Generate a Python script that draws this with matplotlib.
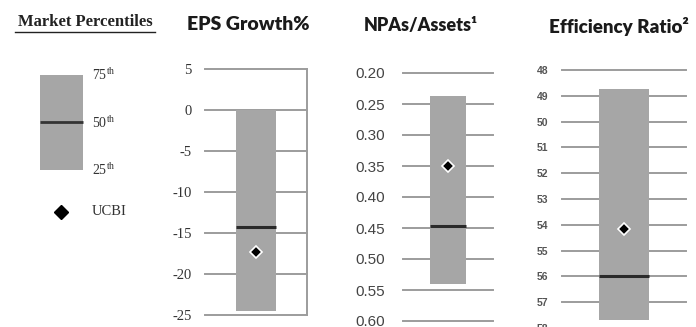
import matplotlib
matplotlib.use("Agg")
import matplotlib.pyplot as plt
from matplotlib.lines import Line2D

# percentile bands per metric (25th / 50th / 75th) and the UCBI reading
metrics = ["EPS Growth%", "NPAs/Assets\u00b9", "Efficiency Ratio\u00b2"]
p25 = [-24.5, 0.541, 57.7]
p50 = [-14.3, 0.447, 56.0]
p75 = [0.0, 0.237, 48.75]
ucbi = [-17.3, 0.35, 54.15]

eps_ticks = [5, 0, -5, -10, -15, -20, -25]
npa_ticks = [0.20, 0.25, 0.30, 0.35, 0.40, 0.45, 0.50, 0.55, 0.60]
eff_ticks = list(range(48, 59))

W, H = 696, 327
BAR = "#a6a6a6"
GRID = "#9c9c9c"

plt.rcParams["mathtext.fontset"] = "custom"
plt.rcParams["mathtext.rm"] = "Liberation Serif"

fig = plt.figure(figsize=(W / 100, H / 100), dpi=100)


def px_axes(x0, x1, ytop, ybot):
    return fig.add_axes([x0 / W, 1 - ybot / H, (x1 - x0) / W, (ybot - ytop) / H])


def panel(ax, i, ticks, ylim, fmt, tick_font, pad):
    ax.set_xlim(0, 1)
    ax.set_ylim(*ylim)
    ax.set_yticks(ticks)
    ax.set_yticklabels([fmt.format(t) for t in ticks], **tick_font)
    ax.set_xticks([])
    ax.tick_params(axis="y", length=0, pad=pad)
    for s in ax.spines.values():
        s.set_visible(False)
    ax.set_axisbelow(True)
    ax.yaxis.grid(True, color=GRID, lw=1.4)
    for gl in ax.get_ygridlines():
        gl.set_clip_on(False)
    ax.bar(0.5, p25[i] - p75[i], bottom=p75[i], width=0.40, color=BAR, zorder=2)
    ax.hlines(p50[i], 0.3, 0.7, color="#2a2a2a", lw=2.2, zorder=3)
    ax.plot(0.5, ucbi[i], marker="D", ms=6.5, color="black", mec="white", mew=1.2, zorder=4)
    ax.patch.set_visible(False)


serif = dict(family="Liberation Serif", fontsize=10.5, color="#333333")
sans = dict(family="Liberation Sans", fontsize=11, color="#444444")
small = dict(family="Liberation Sans", fontsize=7.5, color="#555555", fontweight="bold")

ax1 = px_axes(205, 307, 69, 315)
panel(ax1, 0, eps_ticks, (-25, 5), "{:d}", serif, 9.5)
ax1.spines["right"].set_visible(True)
ax1.spines["right"].set_color(GRID)
ax1.spines["right"].set_linewidth(1.4)

ax2 = px_axes(403, 493, 73, 321)
panel(ax2, 1, npa_ticks, (0.60, 0.20), "{:.2f}", sans, 13)

ax3 = px_axes(562, 686, 70, 328)
panel(ax3, 2, eff_ticks, (58, 48), "{:d}", small, 10)

title_font = dict(family=["Lato", "DejaVu Sans"], fontweight="heavy",
                  color="#1a1a1a", ha="center", va="center")
for (x, y), name, size in zip([(248, 25), (421, 25), (619, 27)], metrics, [14, 13, 13.5]):
    fig.text(x / W, 1 - y / H, name, fontsize=size, **title_font)

# key on the left
fig.text(85 / W, 1 - 22 / H, "Market Percentiles", family="Liberation Serif",
         fontsize=12, fontweight="bold", color="#222222", ha="center", va="center")
fig.add_artist(Line2D([15 / W, 155 / W], [1 - 32 / H, 1 - 32 / H], color="#222222", lw=1,
                      transform=fig.transFigure))

leg = px_axes(0, 160, 75, 170)
leg.set_xlim(0, 160)
leg.set_ylim(25, 75)
leg.axis("off")
leg.bar(61.5, 50, bottom=25, width=43, color=BAR)
leg.hlines(50, 40, 83, color="#333333", lw=2)
for q in (75, 50, 25):
    leg.text(92, q, rf"{q}$^{{\mathrm{{th}}}}$", family="Liberation Serif", fontsize=10,
             color="#333333", va="center", ha="left")
leg.plot(61, 3, marker="D", ms=7.5, color="black", clip_on=False)
leg.text(92, 3, "UCBI", family="Liberation Serif", fontsize=10.5, color="#333333",
         va="center", ha="left")

fig.savefig("out.png", dpi=100)
